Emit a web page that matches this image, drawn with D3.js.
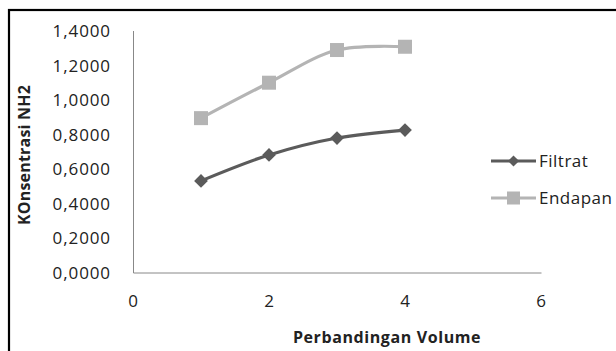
<!DOCTYPE html>
<html>
<head>
<meta charset="utf-8">
<script src="https://cdn.jsdelivr.net/npm/d3@7"></script>
<style>
  body { margin: 0; background: #fff; }
  text { font-family: "Open Sans", sans-serif; fill: #222; }
  .tick text { font-size: 17px; letter-spacing: 0.9px; }
  .judul { font-size: 16px; font-weight: bold; letter-spacing: 0.6px; }
  .legenda { font-size: 17px; letter-spacing: 0.5px; }
</style>
</head>
<body>
<div id="grafik"></div>
<script>
// data dari grafik
const volume = [1, 2, 3, 4];
const filtrat = [0.53, 0.68, 0.778, 0.824];
const endapan = [0.893, 1.098, 1.287, 1.306];
const xTicks = [0, 2, 4, 6];
const yTicks = [0, 0.2, 0.4, 0.6, 0.8, 1.0, 1.2, 1.4];
const namaSeri = ["Filtrat", "Endapan"];

const W = 616, H = 351;

const svg = d3.select("#grafik").append("svg")
  .attr("width", W).attr("height", H);

// bingkai
svg.append("rect")
  .attr("x", 9).attr("y", 10)
  .attr("width", W).attr("height", H)
  .attr("fill", "none").attr("stroke", "#000").attr("stroke-width", 2.2);

const x = d3.scaleLinear().domain([0, 6]).range([133, 541]);
const y = d3.scaleLinear().domain([0, 1.4]).range([272.5, 30.5]);

// sumbu x
const gx = svg.append("g")
  .attr("transform", "translate(0,272.5)")
  .call(d3.axisBottom(x).tickValues(xTicks).tickSize(0).tickPadding(22).tickFormat(d3.format("d")));
gx.select(".domain").attr("stroke", "#888");

// sumbu y
const koma = d => d.toFixed(4).replace(".", ",");
const gy = svg.append("g")
  .attr("transform", "translate(133,0)")
  .call(d3.axisLeft(y).tickValues(yTicks).tickSize(0).tickPadding(22).tickFormat(koma));
gy.select(".domain").attr("stroke", "#888");
gy.selectAll(".tick text").attr("dy", "0.35em");

// judul sumbu
svg.append("text").attr("class", "judul")
  .attr("x", 387).attr("y", 343)
  .attr("text-anchor", "middle")
  .text("Perbandingan Volume");

svg.append("text").attr("class", "judul")
  .attr("transform", "translate(30,155) rotate(-90)")
  .attr("text-anchor", "middle")
  .style("letter-spacing", "0.2px")
  .text("KOnsentrasi NH2");

// garis
const garis = d3.line()
  .x(d => x(d[0])).y(d => y(d[1]))
  .curve(d3.curveCatmullRom.alpha(0.5));

const warna = ["#5b5b5b", "#b4b4b4"];
const seri = [filtrat, endapan];

seri.forEach((vals, i) => {
  const pts = volume.map((v, j) => [v, vals[j]]);
  svg.append("path")
    .datum(pts)
    .attr("d", garis)
    .attr("fill", "none")
    .attr("stroke", warna[i])
    .attr("stroke-width", 3.2);
});

// penanda
const diamond = d3.symbol().type(d3.symbolDiamond2).size(120);
svg.selectAll(".titikF")
  .data(volume.map((v, j) => [v, filtrat[j]]))
  .enter().append("path")
  .attr("d", diamond)
  .attr("transform", d => `translate(${x(d[0])},${y(d[1])})`)
  .attr("fill", warna[0]);

svg.selectAll(".titikE")
  .data(volume.map((v, j) => [v, endapan[j]]))
  .enter().append("rect")
  .attr("x", d => x(d[0]) - 7)
  .attr("y", d => y(d[1]) - 7)
  .attr("width", 14).attr("height", 14)
  .attr("fill", warna[1]);

// legenda
const leg = svg.append("g");
namaSeri.forEach((n, i) => {
  const ly = 161 + i * 37;
  leg.append("line")
    .attr("x1", 491).attr("x2", 536)
    .attr("y1", ly).attr("y2", ly)
    .attr("stroke", warna[i]).attr("stroke-width", 3.2);
  if (i === 0) {
    leg.append("path")
      .attr("d", d3.symbol().type(d3.symbolDiamond2).size(80))
      .attr("transform", `translate(513.5,${ly})`)
      .attr("fill", warna[0]);
  } else {
    leg.append("rect")
      .attr("x", 507).attr("y", ly - 6.5)
      .attr("width", 13).attr("height", 13)
      .attr("fill", warna[1]);
  }
  leg.append("text").attr("class", "legenda")
    .attr("x", 539).attr("y", ly)
    .attr("dy", "0.35em")
    .text(n);
});
</script>
</body>
</html>
